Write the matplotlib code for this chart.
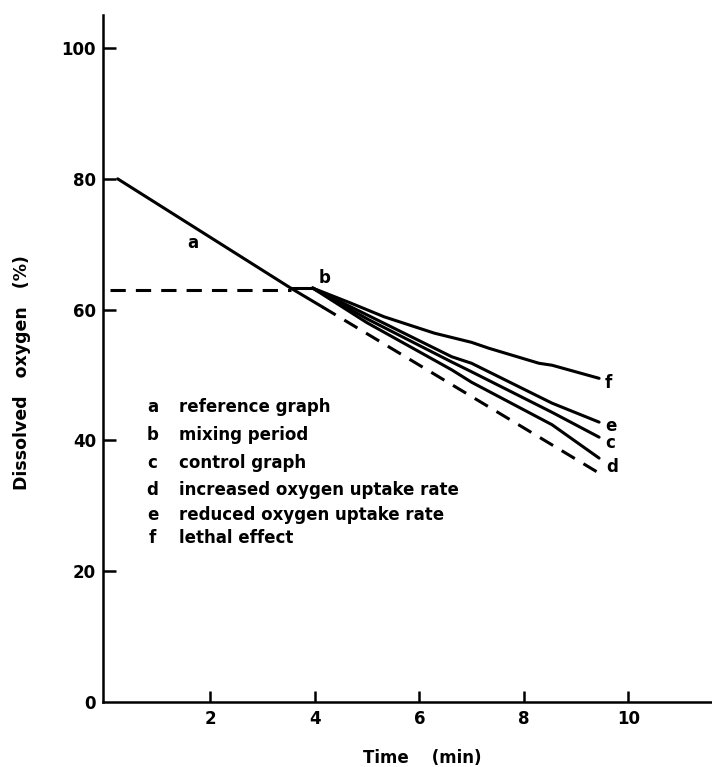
import matplotlib
matplotlib.use('Agg')
from matplotlib import pyplot as plt

# 읽어낸 값들 (Time, min / Dissolved oxygen, %)
a_x = [0.23, 3.54, 4.15]
a_y = [80.0, 63.3, 60.4]

mix_x = [0.08, 3.54]
mix_y = [63.0, 63.0]
flat_x = [3.54, 3.96]
flat_y = [63.3, 63.3]

ext_x = [4.15, 9.44]
ext_y = [60.4, 35.0]

c_x = [3.96, 5.0, 6.62, 7.0, 8.54, 9.44]
c_y = [63.3, 58.6, 52.0, 50.5, 44.3, 40.5]

d_x = [3.96, 5.0, 6.62, 7.0, 8.54, 9.44]
d_y = [63.3, 58.0, 50.8, 48.9, 42.4, 37.3]

e_x = [3.96, 5.0, 6.62, 7.0, 8.54, 9.44]
e_y = [63.3, 59.2, 52.8, 51.8, 45.7, 42.8]

f_x = [3.96, 4.69, 5.33, 6.29, 7.0, 7.33, 8.29, 8.54, 9.44]
f_y = [63.3, 61.0, 58.9, 56.4, 55.0, 54.1, 51.8, 51.5, 49.5]

x_ticks = [2, 4, 6, 8, 10]
y_ticks = [0, 20, 40, 60, 80, 100]

legend_keys = ['a', 'b', 'c', 'd', 'e', 'f']
legend_texts = ['reference graph', 'mixing period', 'control graph',
                'increased oxygen uptake rate', 'reduced oxygen uptake rate',
                'lethal effect']

plt.rcParams['font.family'] = ['DejaVu Sans']

fig = plt.figure(figsize=(7.12, 7.67), dpi=100)
ax = fig.add_axes([0.1447, 0.0847, 0.8553, 0.8953])

lw = 2.2
ax.plot(a_x, a_y, color='black', lw=lw, solid_capstyle='round')
ax.plot(mix_x, mix_y, color='black', lw=lw, dashes=(5, 3.3))
ax.plot(flat_x, flat_y, color='black', lw=lw)
ax.plot(ext_x, ext_y, color='black', lw=lw, dashes=(5, 3.3))
for xs, ys in [(c_x, c_y), (d_x, d_y), (e_x, e_y), (f_x, f_y)]:
    ax.plot(xs, ys, color='black', lw=lw, solid_capstyle='round')

ax.set_xlim(-0.05, 11.6)
ax.set_ylim(0, 105)

# 축 모양
for s in ['top', 'right']:
    ax.spines[s].set_visible(False)
for s in ['left', 'bottom']:
    ax.spines[s].set_linewidth(1.8)

ax.set_xticks(x_ticks)
ax.set_yticks(y_ticks)
ax.tick_params(direction='in', length=8, width=1.8, labelsize=12, pad=6)
ax.tick_params(axis='y', length=9, pad=5)
ax.yaxis.get_major_ticks()[0].tick1line.set_visible(False)
for lab in ax.get_xticklabels() + ax.get_yticklabels():
    lab.set_fontweight('bold')

ax.set_xlabel('Time    (min)', fontsize=12, fontweight='bold')
ax.xaxis.set_label_coords(0.524, -0.068)
ax.set_ylabel('Dissolved   oxygen   (%)', fontsize=12.5, fontweight='bold')
ax.yaxis.set_label_coords(-0.118, 0.48)

fs = 12
ax.text(1.66, 70.2, 'a', fontsize=fs, fontweight='bold', ha='center', va='center')
ax.text(4.19, 64.8, 'b', fontsize=fs, fontweight='bold', ha='center', va='center')
ax.text(9.54, 48.8, 'f', fontsize=fs, fontweight='bold', ha='left', va='center')
ax.text(9.55, 42.2, 'e', fontsize=fs, fontweight='bold', ha='left', va='center')
ax.text(9.55, 39.6, 'c', fontsize=fs, fontweight='bold', ha='left', va='center')
ax.text(9.58, 35.9, 'd', fontsize=fs, fontweight='bold', ha='left', va='center')

rows = [45.1, 40.8, 36.5, 32.4, 28.6, 25.1]
for k, t, yy in zip(legend_keys, legend_texts, rows):
    ax.text(0.90, yy, k, fontsize=fs, fontweight='bold', ha='center', va='center')
    ax.text(1.41, yy, t, fontsize=fs, fontweight='bold', ha='left', va='center')

plt.savefig('out.png', dpi=100)
